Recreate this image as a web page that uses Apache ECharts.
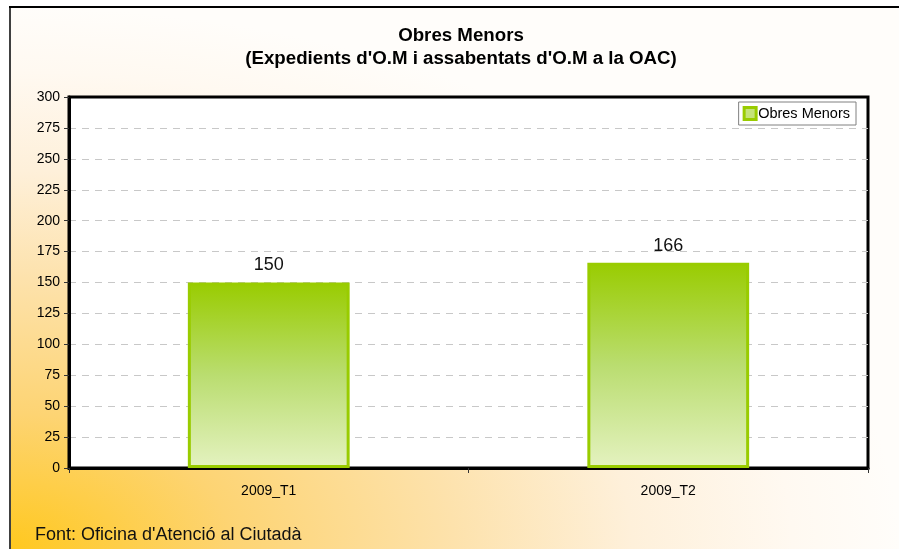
<!DOCTYPE html>
<html>
<head>
<meta charset="utf-8">
<script src="https://cdn.jsdelivr.net/npm/echarts@6/dist/echarts.min.js"></script>
<style>
  html, body { margin: 0; padding: 0; background: #fff; }
  #chart { width: 899px; height: 549px; }
</style>
</head>
<body>
<div id="chart"></div>
<script>
// Quarterly counts of minor works files
const categories = ['2009_T1', '2009_T2'];
const obresMenors = [150, 166];
const seriesName = 'Obres Menors';
const titleLines = ['Obres Menors', "(Expedients d'O.M i assabentats d'O.M a la OAC)"];
const sourceNote = "Font: Oficina d'Atenció al Ciutadà";

const W = 899, H = 549;
const FONT = '"Liberation Sans", Arial, sans-serif';

const chart = echarts.init(document.getElementById('chart'), null, { renderer: 'canvas' });

// Warm radial wash from the bottom-left corner, stretched to an ellipse
const panelW = W - 10, panelH = H - 7;
const bgRect = {
  type: 'rect',
  z: -10,
  silent: true,
  x: 10, y: 7,
  scaleY: panelH / panelW,
  shape: { x: 0, y: 0, width: panelW, height: panelW },
  style: {
    fill: {
      type: 'radial', x: 0, y: 1, r: 1,
      colorStops: [
        { offset: 0, color: '#FFC81F' },
        { offset: 0.25, color: '#FDD473' },
        { offset: 0.5, color: '#FDE2AC' },
        { offset: 0.7, color: '#FEF0DA' },
        { offset: 0.88, color: '#FFF9F1' },
        { offset: 1, color: '#FFFDFA' }
      ]
    }
  }
};

chart.setOption({
  animation: false,
  backgroundColor: '#ffffff',
  textStyle: { fontFamily: FONT },
  title: {
    text: titleLines.join('\n'),
    left: 456, textAlign: 'center',
    top: 19,
    textStyle: { fontSize: 18.7, fontWeight: 'bold', color: '#000', lineHeight: 23, fontFamily: FONT }
  },
  legend: {
    data: [seriesName],
    right: 43, top: 102,
    orient: 'vertical',
    backgroundColor: '#ffffff',
    borderColor: '#808080',
    borderWidth: 1,
    borderRadius: 0,
    padding: [4, 6, 4, 4],
    itemWidth: 12, itemHeight: 12, itemGap: 0,
    icon: 'rect',
    textStyle: { fontSize: 14.5, color: '#000', padding: [0, 0, 0, -3], fontFamily: FONT },
    itemStyle: { color: '#C4E37A', borderColor: '#99CC00', borderWidth: 3 }
  },
  grid: {
    left: 69, right: 31, top: 97, bottom: 81,
    show: true,
    backgroundColor: '#ffffff',
    borderColor: '#000000',
    borderWidth: 3
  },
  xAxis: {
    type: 'category',
    data: categories,
    boundaryGap: true,
    axisLine: { show: true, lineStyle: { color: '#000', width: 3 } },
    axisTick: { show: true, length: 5, lineStyle: { color: '#333', width: 1 } },
    axisLabel: { fontSize: 14, color: '#000', margin: 16, fontFamily: FONT }
  },
  yAxis: {
    type: 'value',
    min: 0, max: 300, interval: 25,
    axisLine: { show: true, lineStyle: { color: '#000', width: 3 } },
    axisTick: { show: true, length: 5, lineStyle: { color: '#333', width: 1 } },
    axisLabel: { fontSize: 14, color: '#000', margin: 9, fontFamily: FONT },
    splitLine: { show: true, showMinLine: false, showMaxLine: false, lineStyle: { color: '#C8C8C8', type: [7, 6], width: 1 } }
  },
  series: [{
    name: seriesName,
    type: 'bar',
    data: obresMenors,
    barWidth: '40.5%',
    itemStyle: {
      color: {
        type: 'linear', x: 0, y: 0, x2: 0, y2: 1,
        colorStops: [
          { offset: 0, color: '#99CC00' },
          { offset: 0.5, color: '#BADD70' },
          { offset: 1, color: '#E4F2C0' }
        ]
      },
      borderColor: '#99CC00',
      borderWidth: 3
    },
    label: {
      show: true, position: 'top', distance: 8,
      fontSize: 18, color: '#111', fontFamily: FONT
    }
  }],
  graphic: [
    bgRect,
    { type: 'line', silent: true, z: 5, shape: { x1: 10, y1: 7, x2: 10, y2: H }, style: { stroke: '#404040', lineWidth: 2 } },
    { type: 'line', silent: true, z: 5, shape: { x1: 9, y1: 7, x2: W, y2: 7 }, style: { stroke: '#000', lineWidth: 2 } },
    {
      type: 'text', silent: true, z: 5,
      x: 35, y: 535,
      style: { text: sourceNote, fontSize: 18, fill: '#111', font: '18px ' + FONT, textVerticalAlign: 'middle', verticalAlign: 'middle' }
    }
  ]
});
</script>
</body>
</html>
